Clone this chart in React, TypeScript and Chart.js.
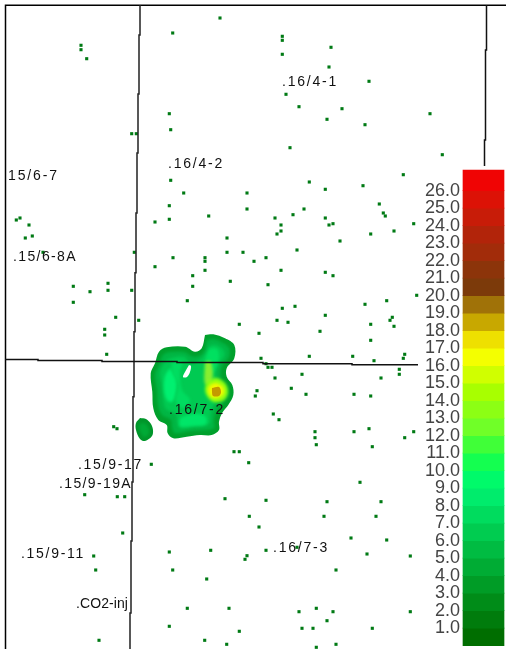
import React, { useEffect, useRef } from "react";
import { Chart, registerables } from "chart.js";

Chart.register(...registerables);

type P = [number, number];

// Colour bar
const barLevels = [0,1,2,3,4,5,6,7,8,9,10,11,12,13,14,15,16,17,18,19,20,21,22,23,24,25,26];
const barColors = [
  "#006e00","#007c0c","#008c18","#009c26","#00ac34","#00bc42","#00cc50","#00dc5e","#00ec6c","#00fa6a",
  "#14ff50","#40ff38","#70ff28","#8cff14","#a8ff00","#d0ff00","#f4ff00","#eee000","#c8a800","#a07208",
  "#7c3a0a","#8c340a","#a22c0a","#b2240a","#c81c08","#dc1206","#f00404",
];
const barTop = 27.18;
const tickValues = [1,2,3,4,5,6,7,8,9,10,11,12,13,14,15,16,17,18,19,20,21,22,23,24,25,26];

// Injection well dots
const wellDots: P[] = [
  [220,18],[172.7,33],[81,45.3],[81,49.7],[86.7,58.7],[169.3,113.7],[170.7,129.7],[131.7,133.7],[136.3,133.7],
  [170.7,180.3],[183.7,193],[247,193],[247,209],[169.3,205.7],[208.7,216],[169.3,219.3],[16.3,220],[20,218],
  [282.3,36.3],[282.3,40.3],[282.3,54.3],[331,47.3],[329,67],[369,81.3],[286,94.3],[299,106.7],[342,108.7],
  [327,119.3],[365,124.7],[430,113.7],[290,147.7],[442.3,154.7],[403.3,174.7],[309.3,182],[325.3,189.3],[363,185.7],
  [379.3,204],[383.3,213],[385.3,216],[304,209],[293,214.7],[275,218],[325.3,218],
  [29,225],[25.3,238],[32.3,236],[43,252.3],[134.3,252.3],[73.3,286.3],[108,283.3],[90,291.7],[108,290.3],[131.7,290.3],
  [73.3,302.3],[115.7,317.3],[138.7,320.3],[104.7,329.3],[104.7,335],[106.7,354.3],[113.7,426.7],[117,428.7],
  [155,222],[227,238],[227,252.3],[243,252.3],[173,257.7],[205,257.7],[205,261.3],[205,270.3],[155,266.7],[192.7,275.7],
  [230.3,281.3],[192.7,286.3],[187.3,300.7],[239.3,324.3],
  [281,225],[281,231],[277,234],[329,225],[333,223.7],[370.7,234],[394,231],[413.7,223.7],[340,241],[297,250],[266,257.7],
  [254,261.3],[281,270.3],[325.3,272.3],[333,275.7],[268,284.7],[416.7,295.3],[365,304.3],[386.7,300.7],[282.3,308.3],
  [295,306.3],[325.3,315.3],[392.3,317.3],[390,320.3],[277,320.3],[288,322.3],[370.7,324.3],[394,326.3],[320,331.3],
  [259,333.3],[370.7,340.3],[261,358.3],[309.3,356.3],[352.7,356.3],[404.7,354.3],[403.3,358.3],[374,360.7],[266,363.7],
  [268,367.3],[272,367.3],[399.3,369.3],[399.3,374.3],[302,374.3],[275,378],[381,378],[291.3,388.3],[257,390.7],[255.3,396],
  [306,394.3],[354,394.3],[370.7,396],[273.3,414],[279,419.7],[315,431.7],[315,437.7],[354,431.7],[369,428.7],[413.7,431.7],
  [404.7,437.7],
  [234,451.7],[239.3,451.7],[151.3,464.3],[248.7,462.7],[84.7,494.7],[117.3,496.7],[124.7,496.7],[225,498.7],[249.3,516.3],
  [122.7,533],[169.3,552],[210.7,550.3],[247,555.7],[245,559.3],[93.7,556],[95.7,570],[172.7,570],[206.7,579],[187.3,608.3],
  [229,608.3],[169.3,626.3],[239.3,631.3],[99,640.3],[204.7,640.3],[226.7,644.3],
  [316.3,444.7],[372.3,446.7],[360,482.3],[266,500.3],[327,501.7],[381,501.7],[324,516.3],[376,516.3],[259,527],[351,538],
  [386.7,540],[297,547.3],[266,550.3],[367,554],[410.3,556],[336,570],[299,611.7],[316.3,608.3],[333,611.7],[410.3,611.7],
  [327,620.7],[302,628.3],[313,628.3],[372.3,628.3],[316.3,647.3],[336,644.3],
];

// Well names
const wellNames = [".16/4-1",".16/4-2","15/6-7",".15/6-8A",".16/7-2",".15/9-17",".15/9-19A",".15/9-11",".CO2-inj",".16/7-3"];
const wellNameX = [282,168,8,13,169,78,59,21,76,273];
const wellNameY = [82,164,176,257,410,465,484,554,604,548];
const wellNameW = [56,56,51,64,56,65,73,64,52,56];

// Block boundaries
const frameLine: P[] = [[506,5.3],[5.5,5.3],[5.5,649]];
const westFault: P[] = [[140,5],[140,35],[139,35],[139,94],[138,94],[138,153],[137,153],[137,213],[136,213],[136,272.7],[135,272.7],[135,331.7],[134,331.7],[134,396.7],[133,396.7],[133,482],[132,482],[132,541],[131,541],[131,613],[130,613],[130,649]];
const eastFault: P[] = [[486.5,5],[486.5,50],[485.5,50],[485.5,140],[484.5,140],[484.5,166]];
const crossFault: P[] = [[5,359.5],[38,359.5],[38,360.5],[102,360.5],[102,361.5],[177,361.5],[177,362.5],[263,362.5],[263,363.7],[352,363.7],[352,364.7],[418,364.7]];

// Plume shells, outer to inner
const plumeOuter: P[] = [[205,335],[213.3,334.3],[225,338.3],[234.3,345],[234.3,358.3],[226.7,368.3],[226.7,376.7],[232.3,385],[233.3,395],[228.3,405],[222.3,412.7],[219,421.7],[219,430],[211.7,435],[200,435],[186.7,436.7],[173.3,438.3],[167.7,433.3],[166.7,425],[158.3,420],[153.3,408.3],[152.3,391.7],[150.7,373.3],[155,363.3],[159,351.7],[166.7,347.3],[185,346.7],[195,351.7],[201.7,348.3],[205,335]];
const plumeMid: P[] = [[207,340],[214,339],[223,343],[229,348],[229,357],[222,366],[221,378],[227,387],[228,395],[223,403],[217,410],[214,420],[214,428],[205,430],[190,431],[175,433],[172,427],[171,420],[162,415],[158,405],[157,390],[155,374],[159,365],[163,355],[170,352],[184,352],[194,357],[203,353],[207,340]];
const plumeInner: P[] = [[209,346],[216,345],[224,351],[224,357],[218,364],[216,378],[222,388],[222,396],[216,402],[211,412],[209,424],[195,426],[180,428],[177,420],[176,414],[166,409],[163,398],[162,385],[160,373],[165,362],[172,358],[184,357],[191,364],[200,360],[207,352],[209,346]];
const plumeBrightLeft: P[] = [[170,368],[176,378],[176,392],[172,402],[167,400],[164,390],[165,376],[170,368]];
const plumeBrightSouth: P[] = [[180,418],[192,414],[205,416],[206,424],[192,426],[180,426],[180,418]];
const plumeBrightMid: P[] = [[172,362],[182,362],[180,372],[182,390],[190,400],[184,408],[176,402],[178,385],[172,372],[172,362]];
const plumeBrightNorth: P[] = [[209,349],[217,349],[219,358],[213,372],[206,372],[206,358],[209,349]];
const plumeBand: P[] = [[205,362],[211,362],[212,382],[205,384],[205,362]];
const hotOuter: P[] = [[208,381],[216,378],[225,383],[228,392],[224,400],[214,402],[207,396],[205,388],[208,381]];
const hotMid: P[] = [[210,385],[216,383],[223,387],[224,393],[220,397],[213,398],[209,394],[208,389],[210,385]];
const hotCore: P[] = [[212,388],[219,387],[221,392],[219,396],[213,396],[212,392],[212,388]];
const plumeHole: P[] = [[189,365],[191,366],[190,372],[187,377],[183,377],[185,372],[189,365]];
const blobOuter: P[] = [[140,418],[146,419],[151,424],[153,430],[152,436],[145,441],[140,439],[136,430],[136,423],[140,418]];
const blobInner: P[] = [[141,423],[146,424],[149,430],[148,435],[144,437],[140,431],[139,426],[141,423]];

// The first two shells keep a crisp edge; the next ones are softened.
const crispShells: [P[], string][] = [
  [plumeOuter, "#00a02c"],
  [blobOuter, "#00962a"],
];
const softShells: [P[], string][] = [
  [blobInner, "#00aa36"],
  [plumeMid, "#00b644"],
  [plumeInner, "#00ca52"],
  [plumeBrightLeft, "#00f070"],
  [plumeBrightSouth, "#00e668"],
  [plumeBrightMid, "#00dc60"],
  [plumeBrightNorth, "#00e060"],
  [plumeBand, "#88ee30"],
  [hotOuter, "#90ff10"],
  [hotMid, "#f0fa00"],
];
const topShells: [P[], string][] = [
  [hotCore, "#c49a00"],
  [plumeHole, "#ffffff"],
];

const toXY = (pts: P[]) => pts.map(([x, y]) => ({ x, y }));

const lineDs = (pts: P[], color: string, width: number) => ({
  type: "line" as const,
  data: toXY(pts),
  borderColor: color,
  borderWidth: width,
  pointRadius: 0,
  fill: false,
  tension: 0,
  xAxisID: "x",
  yAxisID: "y",
});

const shellDs = ([pts, color]: [P[], string]) => ({
  type: "line" as const,
  data: toXY(pts),
  borderColor: color,
  borderWidth: 0,
  backgroundColor: color,
  pointRadius: 0,
  fill: "shape",
  tension: 0.35,
  xAxisID: "x",
  yAxisID: "y",
});

const softStart = crispShells.length - 1;
const softEnd = crispShells.length + softShells.length - 1;

const softenPlugin = {
  id: "soften",
  afterDatasetDraw(chart: any, args: any) {
    if (args.index === softStart) chart.ctx.filter = "blur(1.6px)";
    if (args.index === softEnd) chart.ctx.filter = "none";
  },
};

const wellNamesPlugin = {
  id: "wellNames",
  afterDatasetsDraw(chart: any) {
    const { ctx, scales } = chart;
    ctx.save();
    ctx.font = '14px "Liberation Sans"';
    ctx.fillStyle = "#111111";
    ctx.textBaseline = "middle";
    wellNames.forEach((name, i) => {
      ctx.letterSpacing = "0px";
      const natural = ctx.measureText(name).width;
      ctx.letterSpacing = `${(wellNameW[i] - natural) / name.length}px`;
      ctx.fillText(name, scales.x.getPixelForValue(wellNameX[i]), scales.y.getPixelForValue(wellNameY[i]));
    });
    ctx.restore();
  },
};

export default function App() {
  const ref = useRef<HTMLCanvasElement>(null);
  useEffect(() => {
    const back: any[] = [
      ...crispShells.map(shellDs),
      ...softShells.map(shellDs),
      ...topShells.map(shellDs),
      {
        type: "scatter" as const,
        data: toXY(wellDots),
        backgroundColor: "#007a14",
        borderWidth: 0,
        pointStyle: "rect",
        pointRadius: 2.2,
        xAxisID: "x",
        yAxisID: "y",
      },
      lineDs(frameLine, "#000000", 1.5),
      lineDs(westFault, "#222222", 1.5),
      lineDs(eastFault, "#111111", 1.5),
      lineDs(crossFault, "#111111", 1.5),
      {
        type: "bar" as const,
        data: barLevels.map((v, i) => ({ x: 483.5, y: [v, i === barLevels.length - 1 ? barTop : v + 1] })),
        backgroundColor: barColors,
        borderWidth: 0,
        barThickness: 41,
        xAxisID: "x",
        yAxisID: "v",
      },
    ];
    const datasets = back.map((d, i) => ({ ...d, order: back.length - i }));
    const chart = new Chart(ref.current!, {
      type: "scatter",
      data: { datasets },
      plugins: [softenPlugin, wellNamesPlugin],
      options: {
        animation: false,
        responsive: false,
        layout: { padding: 0, autoPadding: false },
        parsing: undefined,
        plugins: { legend: { display: false }, tooltip: { enabled: false }, title: { display: false } },
        scales: {
          x: { type: "linear", min: 0, max: 506, display: false, offset: false },
          y: { type: "linear", min: 0, max: 649, reverse: true, display: false, offset: false },
          v: {
            type: "linear",
            position: { x: 460 },
            offset: false,
            min: (645.7 - 649) / 17.5,
            max: 645.7 / 17.5,
            grid: { display: false, drawTicks: false },
            border: { display: false },
            afterBuildTicks: (s: any) => {
              s.ticks = tickValues.map((value) => ({ value }));
            },
            afterFit: (s: any) => {
              s.width = 0;
              s.paddingTop = 0;
              s.paddingBottom = 0;
              s.paddingLeft = 0;
              s.paddingRight = 0;
            },
            ticks: {
              autoSkip: false,
              padding: 0,
              color: "#444444",
              font: { family: '"Liberation Sans"', size: 18 },
              callback: (v: any) => Number(v).toFixed(1),
            },
          },
        },
      } as any,
    } as any);
    return () => chart.destroy();
  }, []);
  return (
    <div style={{ position: "fixed", left: 0, top: 0, width: 506, height: 649, background: "#fff" }}>
      <canvas ref={ref} width={506} height={649} style={{ display: "block", width: 506, height: 649 }} />
    </div>
  );
}
